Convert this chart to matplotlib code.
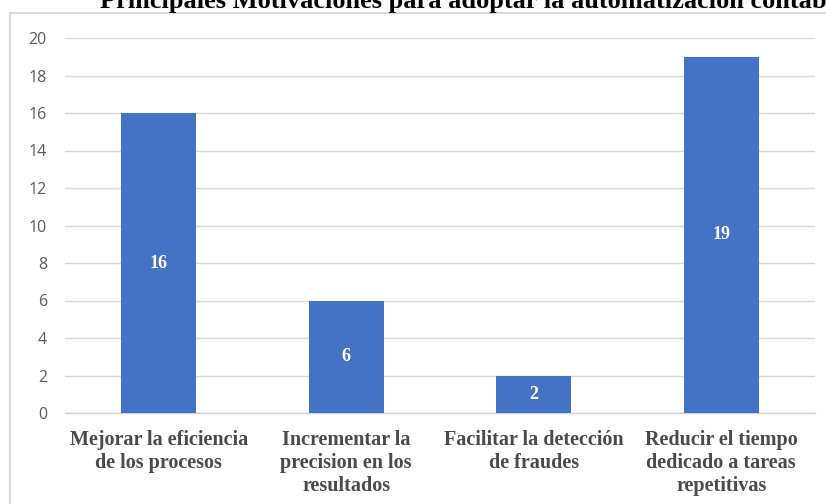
import numpy as np
import matplotlib.pyplot as plt
from matplotlib.patches import Rectangle

# data
categorias = ["Mejorar la eficiencia\nde los procesos",
              "Incrementar la\nprecision en los\nresultados",
              "Facilitar la detección\nde fraudes",
              "Reducir el tiempo\ndedicado a tareas\nrepetitivas"]
valores = [16, 6, 2, 19]
ticks_y = [0, 2, 4, 6, 8, 10, 12, 14, 16, 18, 20]
titulo = "Principales Motivaciones para adoptar la automatización contable"

fig = plt.figure(figsize=(8.26, 5.04), dpi=100)
ax = fig.add_axes([65 / 826, 1 - 413 / 504, 750 / 826, 375 / 504])

# outer chart frame (cut off on the right and bottom)
fig.patches.append(Rectangle((10 / 826, -0.1), 1.0, 1 - 13 / 504 + 0.1,
                             transform=fig.transFigure, fill=False,
                             edgecolor="#d9d9d9", linewidth=1.5))

# title, cut off at the top of the image
fig.text(100 / 826, 1 - 8 / 504, titulo, ha="left", va="baseline",
         fontsize=19, fontweight="bold", family="Liberation Serif", color="black")

x = np.arange(len(categorias))
barras = ax.bar(x, valores, width=0.4, color="#4472C4", zorder=3)

for xi, v in zip(x, valores):
    ax.text(xi, v / 2, str(v), ha="center", va="center", color="white",
            fontsize=13, fontweight="bold", family="Liberation Serif", zorder=4)

ax.set_xlim(-0.5, len(categorias) - 0.5)
ax.set_ylim(0, 20)
ax.set_yticks(ticks_y)
ax.set_xticks(x)
ax.set_xticklabels(categorias, fontsize=14.5, fontweight="bold",
                   family="Liberation Serif", color="#4a4a4a", linespacing=1.22)
ax.tick_params(axis="y", length=0, pad=13, labelsize=11.5, labelcolor="#595959")
ax.tick_params(axis="x", length=0, pad=12)
for lbl in ax.get_yticklabels():
    lbl.set_family("Open Sans")

ax.grid(axis="y", color="#d9d9d9", linewidth=1, zorder=0)
for s in ["top", "right", "left"]:
    ax.spines[s].set_visible(False)
ax.spines["bottom"].set_color("#d0d0d0")
ax.spines["bottom"].set_linewidth(1)

fig.savefig("out.png", dpi=100)
